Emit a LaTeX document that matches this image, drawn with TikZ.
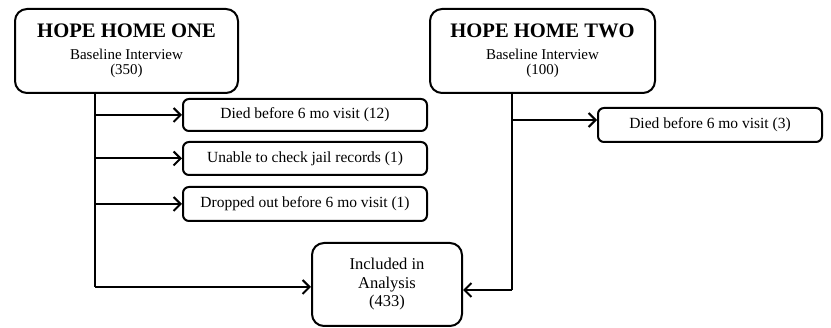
\documentclass[tikz,border=0pt]{standalone}
\usepackage{fontspec}
\setmainfont{Liberation Serif}
\usetikzlibrary{arrows.meta}
\begin{document}
\begin{tikzpicture}[x=1pt,y=-1pt,
  box/.style={draw=black,line width=2pt,rounded corners=#1,inner sep=0pt,align=center,fill=white},
  box/.default=6pt,
  conn/.style={line width=2pt,-{Straight Barb[length=7pt,width=14pt,line width=2pt]}},
  seg/.style={line width=2pt},
  hh/.style={box=12pt,minimum width=#1,minimum height=84pt,font=\fontsize{15}{15}\selectfont},
  small/.style={box,minimum width=#1,font=\fontsize{15.5}{18}\selectfont},
]
\useasboundingbox (0,0) rectangle (831,328);
\node[hh=223pt] (h1) at (126.5,51)
  {{\fontsize{20.6}{22}\selectfont\bfseries HOPE HOME ONE}\\[7pt]
   Baseline Interview\\
   (350)};
\node[hh=225pt] (h2) at (542.5,51)
  {{\fontsize{20.6}{22}\selectfont\bfseries HOPE HOME TWO}\\[7pt]
   Baseline Interview\\
   (100)};
\node[small=244pt,minimum height=32pt] (d1) at (305,115) {Died before 6 mo visit (12)};
\node[small=244pt,minimum height=33pt] (d2) at (305,158.5) {Unable to check jail records (1)};
\node[small=244pt,minimum height=34pt] (d3) at (305,204) {Dropped out before 6 mo visit (1)};
\node[small=224pt,minimum height=34pt] (d4) at (710,125) {Died before 6 mo visit (3)};
\node[box=12pt,minimum width=150pt,minimum height=83pt,font=\fontsize{16.5}{18.5}\selectfont] (inc) at (387,284.5)
  {Included in\\ Analysis\\ (433)};
\coordinate (t1) at (95,92);
\coordinate (b1) at (95,287);
\coordinate (t2) at (512,92);
\coordinate (b2) at (512,290);
\draw[seg] (t1) -- (b1);
\draw[seg] (t2) -- (b2);
\draw[conn] (t1 |- d1) -- (d1.west);
\draw[conn] (t1 |- d2) -- (d2.west);
\draw[conn] (t1 |- d3) -- (d3.west);
\draw[conn] (b1) -- (b1 -| inc.west);
\draw[conn] (b2) -- (b2 -| inc.east);
\draw[conn] (512,120) -- (d4.west |- 0,120);
\end{tikzpicture}
\end{document}
